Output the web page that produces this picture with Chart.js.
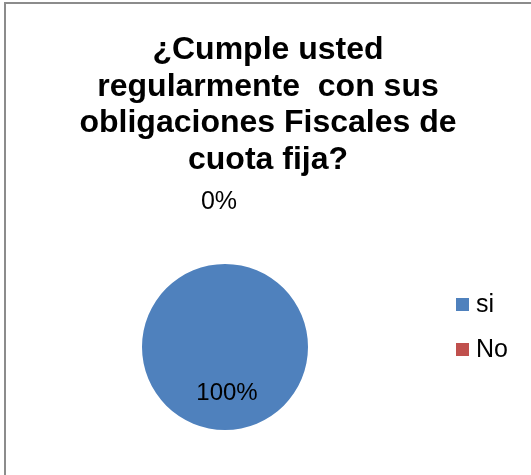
<!DOCTYPE html>
<html>
<head>
<meta charset="utf-8">
<script src="https://cdn.jsdelivr.net/npm/chart.js@4"></script>
<style>
  html, body { margin: 0; padding: 0; background: #fff; overflow: hidden; }
  #wrap { position: relative; width: 531px; height: 475px; }
  #frame { position: absolute; left: 4px; top: 2px; width: 700px; height: 700px; border: 2px solid #8c8c8c; box-sizing: border-box; }
  canvas { position: absolute; left: 0; top: 0; }
</style>
</head>
<body>
<div id="wrap">
  <div id="frame"></div>
  <canvas id="c" width="531" height="475"></canvas>
</div>
<script>
const titleLines = ["¿Cumple usted", "regularmente  con sus", "obligaciones Fiscales de", "cuota fija?"];
const categories = ["si", "No"];
const values = [100, 0];
const percentLabels = ["100%", "0%"];
const colors = ["#4F81BD", "#C0504D"];

const drawPlugin = {
  id: 'drawExtras',
  afterDatasetsDraw(chart) {
    const ctx = chart.ctx;
    ctx.save();
    // title
    ctx.fillStyle = '#000';
    ctx.font = 'bold 32px "Liberation Sans", Arial, sans-serif';
    ctx.textAlign = 'center';
    ctx.textBaseline = 'alphabetic';
    titleLines.forEach((t, i) => ctx.fillText(t, 268, 59 + i * 36.5));

    // data labels
    const meta = chart.getDatasetMeta(0);
    ctx.textBaseline = 'middle';
    meta.data.forEach((arc, i) => {
      const p = arc.getProps(['x', 'y', 'startAngle', 'endAngle', 'outerRadius'], true);
      const mid = (p.startAngle + p.endAngle) / 2;
      const dist = values[i] > 0 ? p.outerRadius * 0.56 : p.outerRadius * 1.74;
      const lx = p.x + Math.cos(mid) * dist + (values[i] > 0 ? 2 : -6);
      const ly = p.y + Math.sin(mid) * dist;
      ctx.font = (values[i] > 0 ? '24px' : '25px') + ' "Liberation Sans", Arial, sans-serif';
      ctx.fillText(percentLabels[i], lx, ly);
    });

    // legend
    ctx.font = '25px "Liberation Sans", Arial, sans-serif';
    ctx.textAlign = 'left';
    categories.forEach((c, i) => {
      const y = 298 + i * 45;
      ctx.fillStyle = colors[i];
      ctx.fillRect(456, y, 13, 13);
      ctx.fillStyle = '#000';
      ctx.fillText(c, 476, y + 7);
    });
    ctx.restore();
  }
};

new Chart(document.getElementById('c'), {
  type: 'pie',
  data: {
    labels: categories,
    datasets: [{
      data: values,
      backgroundColor: colors,
      borderWidth: 0
    }]
  },
  options: {
    responsive: false,
    animation: false,
    devicePixelRatio: 1,
    layout: { padding: { left: 142, right: 223, top: 264, bottom: 45 } },
    plugins: {
      legend: { display: false },
      title: { display: false },
      tooltip: { enabled: false }
    }
  },
  plugins: [drawPlugin]
});
</script>
</body>
</html>
